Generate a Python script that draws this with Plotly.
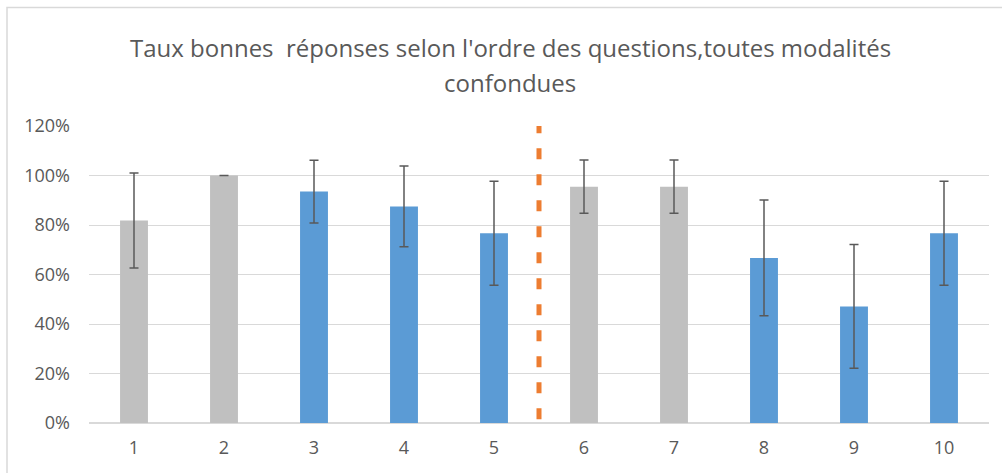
import plotly.graph_objects as go

# Question order and share of correct answers (all modalities together)
questions = [1, 2, 3, 4, 5, 6, 7, 8, 9, 10]
taux = [0.818, 1.0, 0.935, 0.875, 0.767, 0.955, 0.955, 0.667, 0.471, 0.767]
ecart = [0.192, 0.0, 0.127, 0.163, 0.21, 0.108, 0.108, 0.234, 0.25, 0.21]
groupe = ["A", "A", "B", "B", "B", "A", "A", "B", "B", "B"]
ticks_y = [0, 0.2, 0.4, 0.6, 0.8, 1.0, 1.2]
labels_y = ["0%", "20%", "40%", "60%", "80%", "100%", "120%"]
separation = 5.5

couleurs = {"A": "#C0C0C0", "B": "#5B9BD5"}
texte = "#595959"
police = "Open Sans"

fig = go.Figure()
fig.add_trace(go.Bar(
    x=questions,
    y=taux,
    width=0.31,
    marker=dict(color=[couleurs[g] for g in groupe], line=dict(width=0)),
    error_y=dict(type="data", array=ecart, symmetric=True,
                 color="#595959", thickness=1.5, width=4.5),
    showlegend=False,
    hoverinfo="x+y",
))

# Dashed separator between question 5 and question 6
fig.add_shape(type="line", xref="x", yref="y",
              x0=separation, x1=separation, y0=1.215, y1=0,
              line=dict(color="#ED7D31", width=5, dash="11px,15px"))

# Chart frame
fig.add_shape(type="rect", xref="paper", yref="paper",
              x0=-0.0911, x1=1.03, y0=-0.2, y1=1.399,
              line=dict(color="#D9D9D9", width=1.5), fillcolor="rgba(0,0,0,0)",
              layer="below")

fig.add_annotation(text="Taux bonnes  réponses selon l'ordre des questions,toutes modalités",
                   xref="paper", yref="paper", x=0.468, y=1.263, yanchor="middle",
                   xanchor="center", showarrow=False,
                   font=dict(family=police, size=24, color=texte))
fig.add_annotation(text="confondues",
                   xref="paper", yref="paper", x=0.468, y=1.145, yanchor="middle",
                   xanchor="center", showarrow=False,
                   font=dict(family=police, size=24, color=texte))

fig.update_layout(
    width=1002, height=473,
    margin=dict(l=89, r=13, t=126, b=50),
    paper_bgcolor="white", plot_bgcolor="white",
    font=dict(family=police, color=texte, size=18),
    xaxis=dict(range=[0.5, 10.5], tickmode="array", tickvals=questions,
               ticktext=[str(q) for q in questions], showgrid=False,
               zeroline=False, showline=False, ticks="",
               ticklabelstandoff=12,
               tickfont=dict(size=18, color=texte)),
    yaxis=dict(range=[0, 1.2], tickmode="array", tickvals=ticks_y,
               ticktext=labels_y, showgrid=True, gridcolor="#D9D9D9",
               gridwidth=1, zeroline=True, zerolinecolor="#D9D9D9",
               zerolinewidth=1.5, showline=False, ticks="",
               ticklabelstandoff=18,
               tickfont=dict(size=18, color=texte)),
)

fig.write_html("out.html")
